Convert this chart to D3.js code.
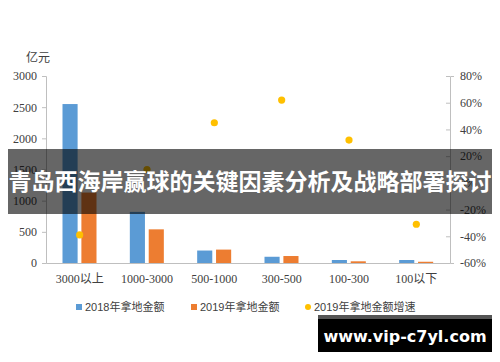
<!DOCTYPE html>
<html>
<head>
<meta charset="utf-8">
<script src="https://cdn.jsdelivr.net/npm/d3@7"></script>
<style>
  body { margin: 0; background: #fff; }
  svg { display: block; }
</style>
</head>
<body>
<svg id="chart" width="500" height="362"></svg>
<script>
const categories = ["3000以上", "1000-3000", "500-1000", "300-500", "100-300", "100以下"]
const series = ["2018年拿地金额", "2019年拿地金额"]
const amount2018 = [2550, 820, 200, 100, 48, 48]
const amount2019 = [1130, 540, 215, 112, 27, 20]
const growth2019 = [-39, 10, 45, 62, 32, -31]
const leftTicks = [0, 500, 1000, 1500, 2000, 2500, 3000]
const rightTicks = [-60, -40, -20, 0, 20, 40, 60, 80]

const colors = {"2018年拿地金额": "#5B9BD5", "2019年拿地金额": "#ED7D31", growth: "#FFC000"}
const serif = '"Liberation Serif", "Noto Sans CJK SC", serif'
const sans = '"Liberation Sans", "Noto Sans CJK SC", sans-serif'

const svg = d3.select("#chart")

const x = d3.scaleBand().domain(categories).range([46, 450])
const xInner = d3.scaleBand().domain(series).range([16.5, 50.5]).paddingInner(0.2)
const yLeft = d3.scaleLinear().domain([0, 3000]).range([263, 76])
const yRight = d3.scaleLinear().domain([-60, 80]).range([263, 76])

// left axis
const gl = svg.append("g").attr("transform", "translate(46,0)")
    .call(d3.axisLeft(yLeft).tickValues(leftTicks).tickSize(4).tickPadding(5).tickFormat(d3.format("d")))
gl.select(".domain").attr("stroke", "#BFBFBF")
gl.selectAll(".tick line").attr("stroke", "#BFBFBF")
gl.selectAll("text").attr("font-family", serif).attr("font-size", 12).attr("fill", "#404040")

// right axis
const gr = svg.append("g").attr("transform", "translate(450,0)")
    .call(d3.axisRight(yRight).tickValues(rightTicks).tickSize(4).tickPadding(6).tickFormat(d => d + "%"))
gr.select(".domain").attr("stroke", "#BFBFBF")
gr.selectAll(".tick line").attr("stroke", "#BFBFBF").attr("x2", -4)
gr.selectAll("text").attr("font-family", serif).attr("font-size", 12).attr("fill", "#404040")

// bottom axis
const gb = svg.append("g").attr("transform", "translate(0,263)")
    .call(d3.axisBottom(x).tickSize(0).tickPadding(11))
gb.select(".domain").attr("stroke", "#BFBFBF")
gb.selectAll("text").attr("font-family", serif).attr("font-size", 12).attr("fill", "#404040")

// unit label
svg.append("text").attr("x", 26).attr("y", 62).text("亿元")
    .attr("font-family", sans).attr("font-size", 12).attr("fill", "#404040")

// bars
const rows = categories.map((c, i) => ({cat: c, values: [
    {key: series[0], value: amount2018[i]},
    {key: series[1], value: amount2019[i]}]}))

svg.append("g").selectAll("g").data(rows).join("g")
    .attr("transform", d => `translate(${x(d.cat)},0)`)
    .selectAll("rect").data(d => d.values).join("rect")
    .attr("x", d => xInner(d.key))
    .attr("width", xInner.bandwidth())
    .attr("y", d => yLeft(d.value))
    .attr("height", d => yLeft(0) - yLeft(d.value))
    .attr("fill", d => colors[d.key])

// growth dots
svg.append("g").selectAll("circle").data(categories).join("circle")
    .attr("cx", d => x(d) + x.bandwidth() / 2)
    .attr("cy", (d, i) => yRight(growth2019[i]))
    .attr("r", 3.6)
    .attr("fill", colors.growth)

// legend
const legendItems = [
    {label: series[0], color: colors[series[0]], shape: "rect", x: 76},
    {label: series[1], color: colors[series[1]], shape: "rect", x: 191},
    {label: "2019年拿地金额增速", color: colors.growth, shape: "circle", x: 305}
]
const lg = svg.append("g").attr("transform", "translate(0,307)")
legendItems.forEach(item => {
    if (item.shape === "rect") {
        lg.append("rect").attr("x", item.x).attr("y", -3).attr("width", 6).attr("height", 6).attr("fill", item.color)
    } else {
        lg.append("circle").attr("cx", item.x + 3).attr("cy", 0).attr("r", 3).attr("fill", item.color)
    }
    lg.append("text").attr("x", item.x + 9).attr("y", 4).text(item.label)
        .attr("font-family", sans).attr("font-size", 11).attr("fill", "#404040")
})

// title banner overlay
svg.append("rect").attr("x", 8).attr("y", 149).attr("width", 484).attr("height", 65)
    .attr("fill", "rgba(0,0,0,0.6)")
svg.append("text").attr("x", 250).attr("y", 190).attr("text-anchor", "middle")
    .text("青岛西海岸赢球的关键因素分析及战略部署探讨")
    .attr("font-family", '"Noto Sans CJK SC", sans-serif').attr("font-weight", "bold")
    .attr("font-size", 23).attr("fill", "#fff")

// watermark
svg.append("rect").attr("x", 318).attr("y", 315).attr("width", 174).attr("height", 5).attr("fill", "#555")
svg.append("rect").attr("x", 318).attr("y", 319).attr("width", 174).attr("height", 33).attr("fill", "#000")
svg.append("text").attr("x", 405).attr("y", 342).attr("text-anchor", "middle")
    .text("www.vip-c7yl.com")
    .attr("font-family", '"DejaVu Sans", sans-serif').attr("font-weight", "bold")
    .attr("font-size", 16).attr("fill", "#fff")
</script>
</body>
</html>
